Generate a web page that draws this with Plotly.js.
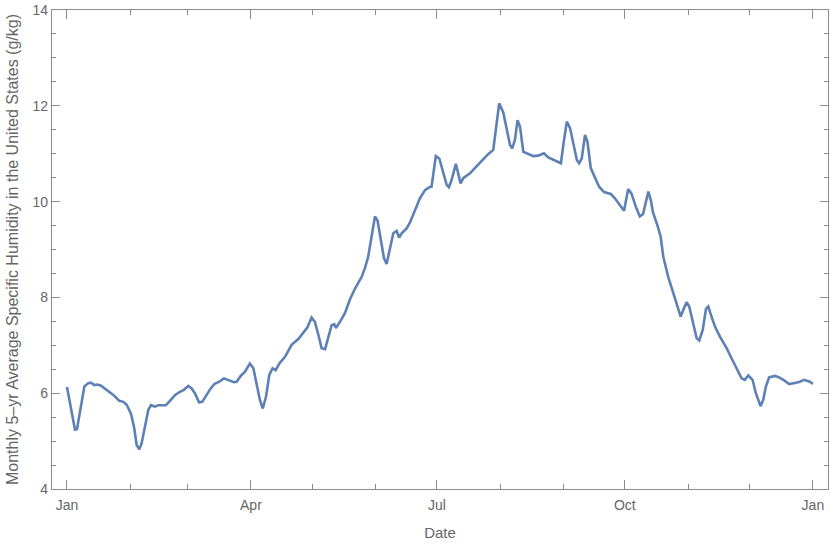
<!DOCTYPE html>
<html>
<head>
<meta charset="utf-8">
<script src="https://cdn.plot.ly/plotly-3.0.1.min.js"></script>
<style>
  body { margin: 0; background: #fff; }
  #chart { width: 830px; height: 547px; }
</style>
</head>
<body>
<div id="chart"></div>
<script>
// Monthly 5-yr average specific humidity
// days counted from Jan 1, values in g/kg

const days = [
    0, 3.9, 4.9, 8.5, 10.4, 11.7, 13.4, 14.8, 16.5, 18.1,
    20.2, 22.2, 24.0, 25.6, 27.6, 29.2, 31.3, 32.8, 34.1, 35.4,
    36.5, 38.2, 39.8, 41.1, 43.1, 44.7, 46.3, 48.4, 50.4, 52.8,
    55.3, 57.2, 59.4, 61.0, 62.6, 64.6, 66.2, 68.4, 70.3, 72.1,
    74.5, 76.8, 78.9, 81.7, 83.0, 85.0, 87.1, 89.5, 91.2, 92.8,
    94.4, 95.8, 97.4, 99.0, 100.6, 102.1, 103.9, 106.7, 109.9, 113.2,
    115.6, 117.6, 119.7, 121.3, 123.0, 124.6, 126.3, 127.9, 129.5, 130.8,
    131.6, 133.6, 136.0, 138.5, 140.9, 144.2, 145.8, 147.4, 149.1, 150.7,
    152.0, 153.6, 155.1, 156.4, 158.0, 159.7, 161.3, 162.5, 163.8, 166.2,
    167.8, 170.3, 172.7, 175.2, 177.3, 178.4, 180.5, 182.2, 184.1, 185.8,
    186.9, 188.2, 190.3, 191.5, 192.6, 193.9, 197.2, 200.5, 203.7, 206.1,
    208.6, 209.9, 211.5, 213.5, 215.4, 216.8, 217.9, 219.2, 220.5, 221.7,
    223.3, 224.9, 228.2, 230.6, 233.4, 235.5, 240.1, 241.7, 243.0, 244.6,
    246.2, 247.8, 249.5, 250.6, 251.9, 253.5, 254.7, 256.3, 258.2, 260.4,
    262.8, 266.1, 268.1, 270.2, 272.6, 274.6, 276.2, 278.4, 280.3, 281.9,
    284.5, 285.7, 286.8, 288.9, 290.5, 291.8, 294.2, 296.7, 298.6, 300.3,
    301.6, 303.2, 304.5, 306.5, 308.1, 309.4, 311.1, 312.7, 313.8, 315.4,
    317.1, 319.5, 322.8, 325.2, 327.7, 330.1, 331.7, 333.4, 335.5, 337.1,
    339.4, 340.7, 342.0, 343.6, 346.4, 348.5, 350.5, 353.4, 356.7, 358.7,
    360.6, 361.9, 363.5, 365.0
];

const humidity = [
    6.13, 5.24, 5.25, 6.14, 6.21, 6.22, 6.17, 6.18, 6.16, 6.11,
    6.05, 5.98, 5.91, 5.84, 5.82, 5.76, 5.57, 5.30, 4.92, 4.83,
    4.95, 5.34, 5.65, 5.75, 5.72, 5.75, 5.75, 5.75, 5.84, 5.96,
    6.03, 6.07, 6.15, 6.10, 6.00, 5.81, 5.82, 5.98, 6.10, 6.19,
    6.24, 6.31, 6.28, 6.23, 6.24, 6.36, 6.45, 6.62, 6.52, 6.21,
    5.86, 5.68, 5.93, 6.38, 6.52, 6.48, 6.62, 6.76, 7.01, 7.13,
    7.25, 7.37, 7.58, 7.49, 7.22, 6.94, 6.92, 7.15, 7.42, 7.44,
    7.36, 7.49, 7.67, 7.96, 8.18, 8.43, 8.61, 8.85, 9.27, 9.69,
    9.60, 9.24, 8.82, 8.70, 8.99, 9.34, 9.39, 9.25, 9.34, 9.44,
    9.56, 9.83, 10.07, 10.24, 10.30, 10.31, 10.95, 10.90, 10.63, 10.35,
    10.30, 10.45, 10.79, 10.59, 10.38, 10.49, 10.59, 10.74, 10.89, 10.99,
    11.08, 11.50, 12.05, 11.86, 11.43, 11.18, 11.11, 11.29, 11.70, 11.56,
    11.04, 11.01, 10.95, 10.96, 11.01, 10.92, 10.83, 10.80, 11.22, 11.67,
    11.53, 11.18, 10.87, 10.80, 10.90, 11.39, 11.25, 10.70, 10.51, 10.31,
    10.20, 10.16, 10.07, 9.95, 9.81, 10.26, 10.17, 9.89, 9.69, 9.74,
    10.21, 10.03, 9.77, 9.51, 9.27, 8.85, 8.43, 8.09, 7.81, 7.60,
    7.74, 7.90, 7.81, 7.46, 7.15, 7.10, 7.32, 7.76, 7.81, 7.60,
    7.39, 7.18, 6.94, 6.73, 6.52, 6.31, 6.28, 6.37, 6.28, 6.00,
    5.73, 5.86, 6.14, 6.33, 6.36, 6.33, 6.28, 6.19, 6.22, 6.24,
    6.28, 6.26, 6.24, 6.19
];

// day offset -> date string on the axis
const start = Date.UTC(2019, 0, 1);
function toDate(d) {
    return new Date(start + d * 86400000).toISOString().slice(0, 19);
}

const frameColor = '#8c8c8c';
const textColor = '#666666';

let trace = {
    x: days.map(toDate),
    y: humidity,
    mode: 'lines',
    line: { color: '#5e81b5', width: 2.6 },
    hoverinfo: 'skip'
};

let layout = {
    width: 830,
    height: 547,
    margin: { l: 52, r: 2, t: 10, b: 58 },
    paper_bgcolor: '#ffffff',
    plot_bgcolor: '#ffffff',
    showlegend: false,
    font: { family: 'Liberation Sans, Arial, sans-serif', size: 14, color: textColor },
    xaxis: {
        type: 'date',
        range: ['2018-12-24 16:00', '2020-01-08 09:36'],
        tick0: '2019-01-01',
        dtick: 'M3',
        tickformat: '%b',
        ticks: 'inside',
        ticklen: 9,
        tickcolor: frameColor,
        tickwidth: 1,
        minor: { dtick: 'M1', ticks: 'inside', ticklen: 5, tickcolor: frameColor },
        showgrid: false,
        zeroline: false,
        showline: true,
        linecolor: frameColor,
        linewidth: 1.2,
        mirror: 'ticks',
        ticklabelstandoff: 3,
        tickfont: { size: 14, color: textColor },
        title: { text: 'Date', font: { size: 15, color: textColor }, standoff: 15 }
    },
    yaxis: {
        range: [4, 14],
        tick0: 4,
        dtick: 2,
        ticks: 'inside',
        ticklen: 8,
        tickcolor: frameColor,
        tickwidth: 1,
        minor: { dtick: 0.5, ticks: 'inside', ticklen: 4, tickcolor: frameColor },
        showgrid: false,
        zeroline: false,
        showline: true,
        linecolor: frameColor,
        linewidth: 1.2,
        mirror: 'ticks',
        tickfont: { size: 14, color: textColor },
        title: {
            text: 'Monthly 5\u2013yr Average Specific Humidity in the United States (g/kg)',
            font: { size: 16, color: textColor },
            standoff: 9
        }
    }
};

Plotly.newPlot('chart', [trace], layout, { staticPlot: true, displayModeBar: false });
</script>
</body>
</html>
